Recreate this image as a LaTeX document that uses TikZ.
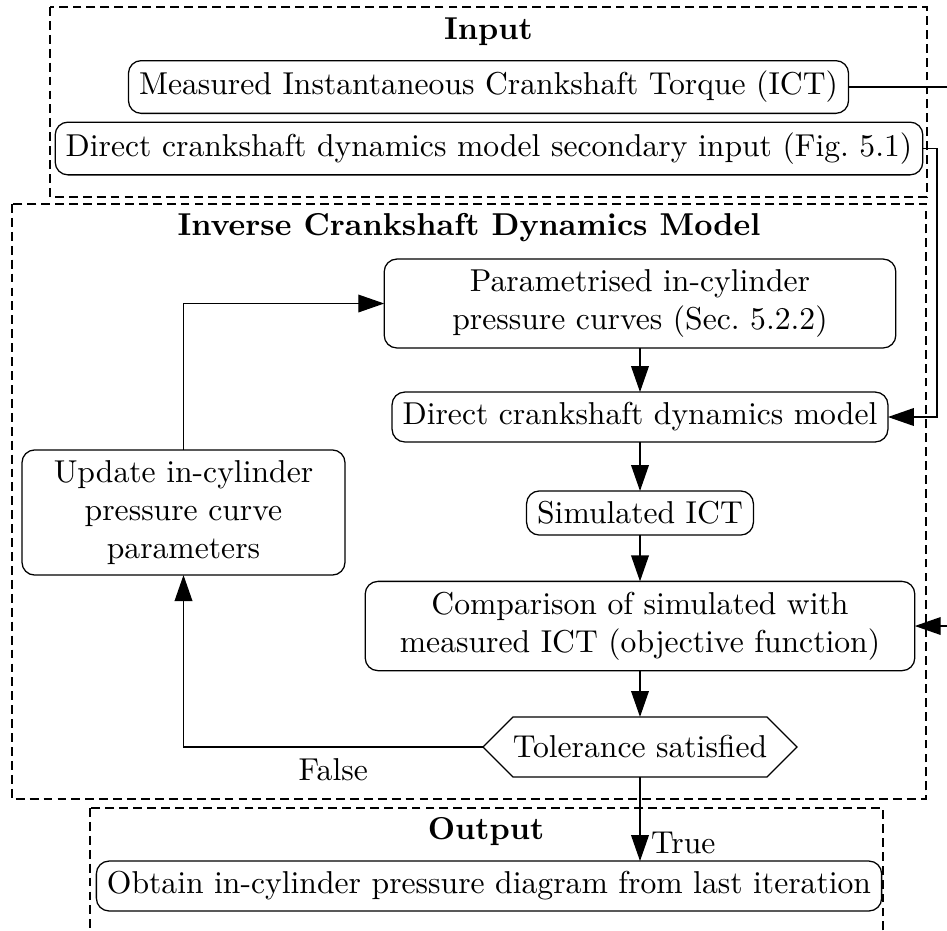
\documentclass[tikz,border=0pt]{standalone}
\usetikzlibrary{arrows.meta,calc}
\begin{document}
\begin{tikzpicture}[x=0.316pt,y=-0.316pt, line width=0.4pt,
  box/.style={draw, rounded corners=4pt, align=center, inner sep=3.33pt, outer sep=0pt},
  arr/.style={-{Triangle[length=8.2pt,width=5.6pt]}},
  group/.style={draw, dash pattern=on 2.8pt off 1.6pt},
  ttl/.style={font=\bfseries}]
\useasboundingbox (0,0) rectangle (947,930);
\clip (0,0) rectangle (947,930);

% group boxes
\draw[group] (50,7) rectangle (927,197);
\draw[group] (12,204) rectangle (926,799);
\draw[group] (90,808) rectangle (883,960);

% titles
\node[ttl] (tin) at (488.5,32) {Input};
\node[ttl] (tinv) at (469,228) {Inverse Crankshaft Dynamics Model};
\node[ttl] (tout) at (486,832) {Output};

% nodes
\node[box] (ict) at (488.5,87) {Measured Instantaneous Crankshaft Torque (ICT)};
\node[box] (sec) at (489,148.5) {Direct crankshaft dynamics model secondary input (Fig.~5.1)};
\node[box, text width=155pt] (par) at (640,303.5) {Parametrised in-cylinder\\pressure curves (Sec.~5.2.2)};
\node[box] (dir) at (640,417) {Direct crankshaft dynamics model};
\node[box] (sim) at (640,513) {Simulated ICT};
\node[box, text width=167pt] (cmp) at (640,626) {Comparison of simulated with\\measured ICT (objective function)};
\node[box, text width=95.4pt] (upd) at (183.5,512.5) {Update in-cylinder\\pressure curve\\parameters};
\node[inner sep=0pt, outer sep=0pt, minimum width=99.2pt, minimum height=19pt] (tol) at (640,747) {Tolerance satisfied};
\draw (tol.west) -- ($(tol.north west)+(30,0)$) -- ($(tol.north east)+(-30,0)$) -- (tol.east)
  -- ($(tol.south east)+(-30,0)$) -- ($(tol.south west)+(30,0)$) -- cycle;
\node[box] (obt) at (489,886) {Obtain in-cylinder pressure diagram from last iteration};

% connectors
\coordinate (e1) at (960,0);
\coordinate (e2) at (937,0);
\draw[arr] (ict.east) -- (ict.east -| e1) |- (cmp.east);
\draw[arr] (sec.east) -- (sec.east -| e2) |- (dir.east);
\draw[arr] (par.south) -- (dir.north);
\draw[arr] (dir.south) -- (sim.north);
\draw[arr] (sim.south) -- (cmp.north);
\draw[arr] (cmp.south) -- (tol.north);
\draw[arr] (upd.north) |- (par.west);
\draw[arr] (tol.west) -| node[pos=0.25, below] (lf) {False} (upd.south);
\draw[arr] (tol.south) -- node[pos=0.78, right] (lt) {True} (tol.south |- obt.north);
\end{tikzpicture}
\end{document}
